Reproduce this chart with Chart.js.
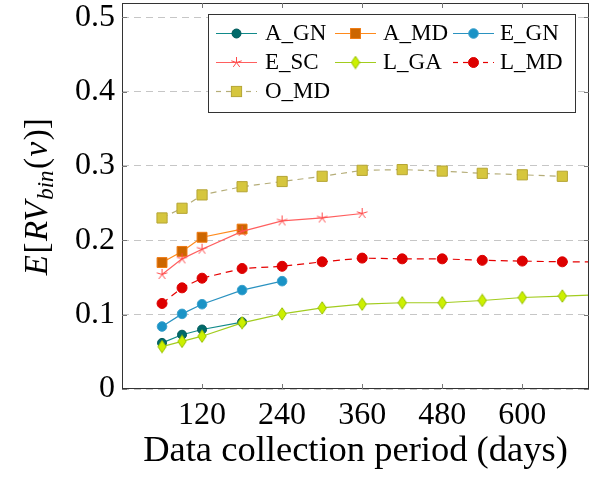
<!DOCTYPE html>
<html>
<head>
<meta charset="utf-8">
<script src="https://cdn.jsdelivr.net/npm/chart.js@4"></script>
<style>
  html, body { margin: 0; padding: 0; background: #fff; }
  #wrap { width: 594px; height: 477px; position: relative; }
  #probe { position: absolute; left: -999px; font-family: 'Liberation Serif'; }
</style>
</head>
<body>
<span id="probe">0.5 Data</span>
<div id="wrap"><canvas id="chart"></canvas></div>
<script>
// x positions (days) shared by all series
const days = [60, 90, 120, 180, 240, 300, 360, 420, 480, 540, 600, 660, 720];

const seriesNames = ['A_GN', 'A_MD', 'E_GN', 'E_SC', 'L_GA', 'L_MD', 'O_MD'];
const aGN = [0.062, 0.073, 0.080, 0.090];
const aMD = [0.170, 0.185, 0.204, 0.215];
const eGN = [0.084, 0.101, 0.114, 0.133, 0.145];
const eSC = [0.154, 0.175, 0.188, 0.212, 0.226, 0.230, 0.236];
const lGA = [0.057, 0.064, 0.071, 0.089, 0.101, 0.109, 0.114, 0.116, 0.116, 0.119, 0.123, 0.125, 0.127];
const lMD = [0.115, 0.136, 0.149, 0.162, 0.165, 0.171, 0.176, 0.175, 0.175, 0.173, 0.172, 0.171, 0.171];
const oMD = [0.230, 0.243, 0.261, 0.272, 0.279, 0.286, 0.294, 0.295, 0.293, 0.290, 0.288, 0.286];

const xTicks = [120, 240, 360, 480, 600];
const yTicks = [0, 0.1, 0.2, 0.3, 0.4, 0.5];

const SERIF = "'Liberation Serif', 'Times New Roman', Times, 'DejaVu Serif', serif";

// pgfplots-like marker glyphs
function starMark(color) {
  const c = document.createElement('canvas');
  c.width = 13; c.height = 13;
  const g = c.getContext('2d');
  g.strokeStyle = color; g.lineWidth = 1;
  g.beginPath();
  for (let k = 0; k < 5; k++) {
    const a = -Math.PI / 2 + k * 2 * Math.PI / 5;
    g.moveTo(6.5, 6.5);
    g.lineTo(6.5 + 5.5 * Math.cos(a), 6.5 + 5.5 * Math.sin(a));
  }
  g.stroke();
  return c;
}
function diamondMark(fill, stroke) {
  const c = document.createElement('canvas');
  c.width = 10; c.height = 14;
  const g = c.getContext('2d');
  g.fillStyle = fill; g.strokeStyle = stroke; g.lineWidth = 1;
  g.beginPath();
  g.moveTo(5, 0.8); g.lineTo(9.2, 7); g.lineTo(5, 13.2); g.lineTo(0.8, 7); g.closePath();
  g.fill(); g.stroke();
  return c;
}

const pts = vals => vals.map((v, i) => ({ x: days[i], y: v }));

const styles = [
  { line: '#118a8a', fill: '#006a6a', edge: '#005a5a', shape: 'circle', r: 4.5, dash: [] },
  { line: '#ff8a1c', fill: '#cc6600', edge: '#f07a10', shape: 'rect', r: 7, dash: [] },
  { line: '#2a92c0', fill: '#1a93c6', edge: '#3aa0cc', shape: 'circle', r: 4.8, dash: [] },
  { line: '#ff5f5f', fill: '#ff5f5f', edge: '#ff4040', shape: starMark('#ff4a4a'), r: 6, dash: [] },
  { line: '#a2cc1e', fill: '#ccf000', edge: '#99bb00', shape: diamondMark('#ccf000', '#99c000'), r: 6, dash: [] },
  { line: '#e60000', fill: '#dd0000', edge: '#dd0000', shape: 'circle', r: 5, dash: [7, 5] },
  { line: '#b5ad78', fill: '#d6c63e', edge: '#b5a535', shape: 'rect', r: 7.2, dash: [6, 5] }
];
const allValues = [aGN, aMD, eGN, eSC, lGA, lMD, oMD];

const datasets = seriesNames.map((name, i) => ({
  label: name,
  data: pts(allValues[i]),
  borderColor: styles[i].line,
  borderWidth: 1.2,
  borderDash: styles[i].dash,
  pointStyle: styles[i].shape,
  pointRadius: styles[i].r,
  pointBackgroundColor: styles[i].fill,
  pointBorderColor: styles[i].edge,
  pointBorderWidth: 1,
  tension: 0,
  fill: false,
  order: seriesNames.length - i
}));

// box frame with inward ticks on all sides
const framePlugin = {
  id: 'frame',
  afterDatasetsDraw(chart) {
    const { ctx, chartArea: a, scales } = chart;
    ctx.save();
    ctx.strokeStyle = '#333';
    ctx.lineWidth = 1;
    ctx.strokeRect(a.left + 0.5, a.top + 0.5, a.right - a.left - 1, a.bottom - a.top - 1);
    ctx.strokeStyle = '#777';
    ctx.beginPath();
    xTicks.forEach(v => {
      const x = Math.round(scales.x.getPixelForValue(v)) + 0.5;
      ctx.moveTo(x, a.bottom); ctx.lineTo(x, a.bottom - 5);
      ctx.moveTo(x, a.top); ctx.lineTo(x, a.top + 5);
    });
    yTicks.forEach(v => {
      const y = Math.round(scales.y.getPixelForValue(v)) + 0.5;
      ctx.moveTo(a.left, y); ctx.lineTo(a.left + 5, y);
      ctx.moveTo(a.right, y); ctx.lineTo(a.right - 5, y);
    });
    ctx.stroke();
    ctx.restore();
  }
};

function drawMarker(ctx, st, x, y) {
  ctx.save();
  ctx.setLineDash([]);
  ctx.lineWidth = 1;
  ctx.fillStyle = st.fill;
  ctx.strokeStyle = st.edge;
  if (st.shape === 'circle') {
    ctx.beginPath(); ctx.arc(x, y, st.r, 0, Math.PI * 2); ctx.fill(); ctx.stroke();
  } else if (st.shape === 'rect') {
    const h = st.r * Math.SQRT1_2;
    ctx.fillRect(x - h, y - h, 2 * h, 2 * h);
    ctx.strokeRect(x - h, y - h, 2 * h, 2 * h);
  } else {
    ctx.drawImage(st.shape, x - st.shape.width / 2, y - st.shape.height / 2);
  }
  ctx.restore();
}

// three-column legend box, top right
const legendPlugin = {
  id: 'boxLegend',
  afterDraw(chart) {
    const ctx = chart.ctx;
    const rows = [33, 62, 91];
    const lineX = [216, 335, 453];
    const textX = [265, 383, 500];
    ctx.save();
    ctx.fillStyle = '#fff';
    ctx.fillRect(208, 14, 367, 98);
    ctx.strokeStyle = '#333';
    ctx.lineWidth = 1;
    ctx.strokeRect(208.5, 14.5, 367, 98);
    ctx.font = '23px ' + SERIF;
    ctx.textBaseline = 'middle';
    seriesNames.forEach((name, i) => {
      const st = styles[i];
      const r = Math.floor(i / 3), c = i % 3;
      const y = rows[r];
      ctx.strokeStyle = st.line;
      ctx.lineWidth = 1.2;
      ctx.setLineDash(st.dash.length ? [5, 5] : []);
      ctx.beginPath(); ctx.moveTo(lineX[c], y + 0.5); ctx.lineTo(lineX[c] + 41, y + 0.5); ctx.stroke();
      drawMarker(ctx, st, lineX[c] + 20.5, y + 0.5);
      ctx.fillStyle = '#000';
      ctx.fillText(name, textX[c], y + 1);
    });
    ctx.restore();
  }
};

// rotated y title with subscript
const yTitlePlugin = {
  id: 'yTitle',
  afterDraw(chart) {
    const ctx = chart.ctx;
    const size = 33;
    const parts = [
      { t: 'E', f: 'italic ' + size + 'px ' + SERIF, dy: 0 },
      { t: '[', f: size + 'px ' + SERIF, dy: 0 },
      { t: 'RV', f: 'italic ' + size + 'px ' + SERIF, dy: 0 },
      { t: 'bin', f: 'italic ' + Math.round(size * 0.7) + 'px ' + SERIF, dy: 6 },
      { t: '(', f: size + 'px ' + SERIF, dy: 0 },
      { t: 'v', f: 'italic ' + size + 'px ' + SERIF, dy: 0 },
      { t: ')]', f: size + 'px ' + SERIF, dy: 0 }
    ];
    ctx.save();
    let total = 0;
    parts.forEach(p => { ctx.font = p.f; p.w = ctx.measureText(p.t).width + 1.5; total += p.w; });
    ctx.translate(47, 196);
    ctx.rotate(-Math.PI / 2);
    ctx.fillStyle = '#000';
    ctx.textBaseline = 'alphabetic';
    let x = -total / 2;
    parts.forEach(p => { ctx.font = p.f; ctx.fillText(p.t, x, p.dy); x += p.w; });
    ctx.restore();
  }
};

function build() {
  new Chart(document.getElementById('chart'), {
    type: 'line',
    data: { datasets },
    options: {
      responsive: true,
      maintainAspectRatio: false,
      animation: false,
      layout: { autoPadding: false, padding: { top: 3, right: 5, left: 0, bottom: 0 } },
      plugins: { legend: { display: false }, tooltip: { enabled: false } },
      scales: {
        x: {
          type: 'linear',
          min: 0,
          max: 700,
          afterBuildTicks: s => { s.ticks = xTicks.map(v => ({ value: v })); },
          afterFit: s => { s.height = 88; s.paddingLeft = 0; s.paddingRight = 0; },
          grid: { display: false },
          border: { display: false },
          ticks: { font: { family: SERIF, size: 32 }, color: '#000', padding: -1, maxRotation: 0, autoSkip: false },
          title: {
            display: true,
            text: 'Data collection period (days)',
            font: { family: SERIF, size: 36.5 },
            color: '#000',
            padding: { top: 0, bottom: 4 }
          }
        },
        y: {
          type: 'linear',
          min: 0,
          max: 0.519,
          afterBuildTicks: s => { s.ticks = yTicks.map(v => ({ value: v })); },
          afterFit: s => { s.width = 122; s.paddingTop = 0; s.paddingBottom = 0; },
          grid: { color: '#c6c6c6', lineWidth: 1, drawTicks: false },
          border: { display: false, dash: [7, 5] },
          ticks: {
            font: { family: SERIF, size: 32 },
            color: '#000',
            padding: 7,
            callback: v => v === 0 ? '0' : v.toFixed(1)
          }
        }
      }
    },
    plugins: [framePlugin, legendPlugin, yTitlePlugin]
  });
}

if (document.fonts && document.fonts.load) {
  Promise.all([
    document.fonts.load("31px 'Liberation Serif'"),
    document.fonts.load("italic 31px 'Liberation Serif'")
  ]).then(build, build);
} else {
  build();
}
</script>
</body>
</html>
